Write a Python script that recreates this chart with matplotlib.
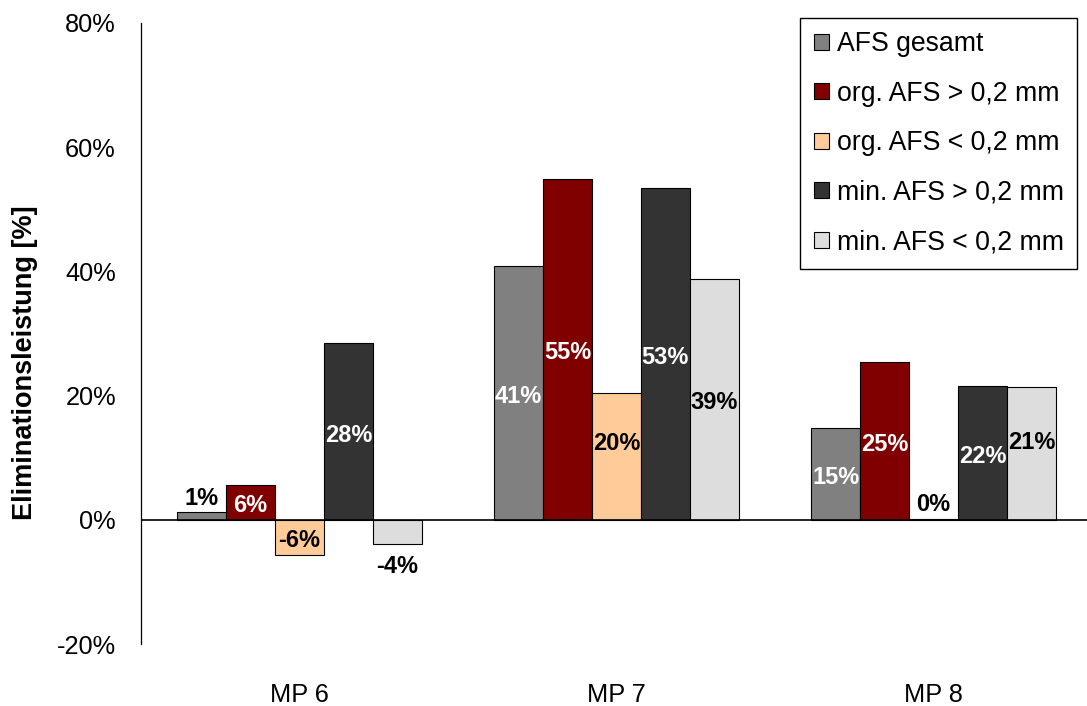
import matplotlib
matplotlib.use("Agg")
import matplotlib.pyplot as plt
import numpy as np

plt.rcParams["font.family"] = ["Liberation Sans", "DejaVu Sans"]

# Measuring points and fraction names
groups = ["MP 6", "MP 7", "MP 8"]
series_names = [
    "AFS gesamt",
    "org. AFS > 0,2 mm",
    "org. AFS < 0,2 mm",
    "min. AFS > 0,2 mm",
    "min. AFS < 0,2 mm",
]

# Elimination performance in percent per measuring point
afs_gesamt = [1.2, 40.9, 14.8]
org_gross = [5.6, 54.9, 25.4]
org_fein = [-5.6, 20.4, 0.1]
min_gross = [28.4, 53.4, 21.6]
min_fein = [-3.9, 38.8, 21.4]

y_ticks = [-20, 0, 20, 40, 60, 80]

series_values = [afs_gesamt, org_gross, org_fein, min_gross, min_fein]
bar_colors = ["#808080", "#800000", "#FFCC99", "#333333", "#DDDDDD"]
label_colors = ["white", "white", "black", "white", "black"]

# vertical nudges (points) for a few labels inside bars
label_nudge = {(2, 1): 12, (4, 2): 10}

W, H = 1087, 706
fig = plt.figure(figsize=(W / 100, H / 100), dpi=100)
ax = fig.add_axes([141 / W, 62 / H, 946 / W, 621 / H])

fs = 18.3
bar_w = 0.1543
x = np.arange(len(groups))

for i, (name, vals, col, tcol) in enumerate(
    zip(series_names, series_values, bar_colors, label_colors)
):
    bars = ax.bar(x + (i - 2) * bar_w, vals, bar_w, color=col,
                  edgecolor="black", linewidth=0.8, label=name, zorder=2)
    for j, (b, v) in enumerate(zip(bars, vals)):
        cx = b.get_x() + b.get_width() / 2
        txt = f"{round(v):.0f}%"
        if abs(v) < 5:
            if v >= 0:
                ax.annotate(txt, (cx, v), xytext=(0, 2), textcoords="offset points",
                            ha="center", va="bottom", color="black",
                            fontsize=17, fontweight="bold", zorder=4)
            else:
                ax.annotate(txt, (cx, v), xytext=(0, -8), textcoords="offset points",
                            ha="center", va="top", color="black",
                            fontsize=17, fontweight="bold", zorder=4)
        else:
            ax.annotate(txt, (cx, v / 2), xytext=(0, label_nudge.get((i, j), 0) - 2.5),
                        textcoords="offset points", ha="center", va="center",
                        color=tcol, fontsize=17, fontweight="bold", zorder=4)

ax.axhline(0, color="black", linewidth=1.2, zorder=3)

ax.set_ylim(-20, 80)
ax.set_xlim(-0.5, -0.5 + 946 / 317)
ax.set_yticks(y_ticks)
ax.set_yticklabels([f"{t}%" for t in y_ticks])
ax.set_xticks(x)
ax.set_xticklabels(groups)
ax.tick_params(axis="y", length=0, pad=18, labelsize=fs)
ax.tick_params(axis="x", length=0, pad=28, labelsize=fs)

for s in ("top", "right", "bottom"):
    ax.spines[s].set_visible(False)
ax.spines["left"].set_linewidth(0.9)
ax.spines["left"].set_color("black")

fig.text(25 / W, 1 - 363 / H, "Eliminationsleistung [%]", rotation=90,
         ha="center", va="center", fontsize=19.5, fontweight="bold")

leg = ax.legend(loc="upper right", bbox_to_anchor=(1077 / W, 1 - 18 / H),
                bbox_transform=fig.transFigure, borderaxespad=0, frameon=True,
                fancybox=False, edgecolor="black", framealpha=1, fontsize=19.2,
                handlelength=0.56, handleheight=0.56, handletextpad=0.3,
                labelspacing=0.88, borderpad=0.5)
leg.get_frame().set_linewidth(1.0)

fig.savefig("out.png", dpi=100)
